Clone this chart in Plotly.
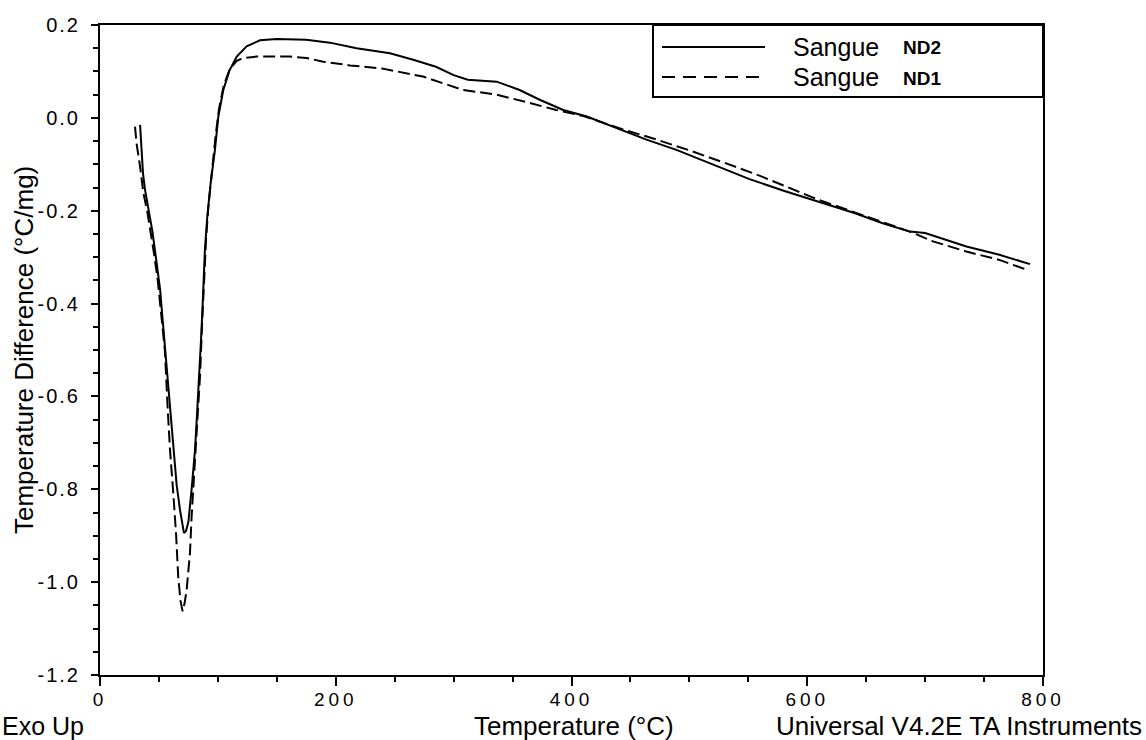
import plotly.graph_objects as go

# ---------------- data ----------------
T_nd2 = [34, 35, 36.5, 38.2, 40.5, 42.4, 44.5, 46.6, 49, 51, 53, 55, 57.6, 60.8, 63, 65,
         67.9, 69.8, 71.2, 73, 75, 77.7, 80.6, 82.5, 84.2, 85.7, 87, 89, 91, 93.9, 97.5,
         100.4, 104.6, 110, 116, 124.4, 135.7, 150, 175, 195, 217.7, 246, 265.7, 285, 300,
         312, 336.5, 356, 373, 393, 413, 435, 463.6, 489, 520, 551, 580, 608, 640, 664,
         687, 700, 712, 735, 763, 789]
v_nd2 = [-0.015, -0.07, -0.12, -0.155, -0.185, -0.21, -0.245, -0.285, -0.33, -0.37, -0.43,
         -0.49, -0.58, -0.68, -0.74, -0.79, -0.845, -0.875, -0.894, -0.89, -0.87, -0.80,
         -0.715, -0.63, -0.557, -0.478, -0.407, -0.284, -0.213, -0.14, -0.069, 0.003, 0.06,
         0.103, 0.132, 0.154, 0.167, 0.170, 0.168, 0.162, 0.150, 0.139, 0.125, 0.11, 0.092,
         0.082, 0.078, 0.06, 0.039, 0.017, 0.003, -0.019, -0.047, -0.069, -0.10, -0.132,
         -0.157, -0.18, -0.205, -0.227, -0.245, -0.248, -0.258, -0.277, -0.295, -0.315]

T_nd1 = [29.7, 31, 34, 36.8, 40, 43, 46, 49, 52, 55, 57.5, 59.4, 62.2, 64.5, 66.4, 68.3,
         70.1, 71.8, 73.5, 75, 76.3, 77.7, 79.2, 81, 83, 85, 86.5, 88, 90, 92, 95, 98, 101,
         105, 110, 116, 121.6, 133, 161, 175, 189.4, 212, 240, 274, 308, 336.5, 364.7, 387,
         410, 440, 470, 500, 530, 560, 608, 640, 664, 687, 706.7, 735, 763, 787]
v_nd1 = [-0.019, -0.055, -0.105, -0.162, -0.2, -0.245, -0.295, -0.35, -0.42, -0.50, -0.63,
         -0.715, -0.81, -0.895, -0.99, -1.04, -1.063, -1.045, -1.017, -0.975, -0.938, -0.86,
         -0.795, -0.73, -0.64, -0.55, -0.45, -0.36, -0.26, -0.19, -0.11, -0.04, 0.02, 0.07,
         0.105, 0.123, 0.129, 0.132, 0.132, 0.129, 0.121, 0.113, 0.106, 0.089, 0.06, 0.05,
         0.032, 0.017, 0.004, -0.022, -0.045, -0.07, -0.097, -0.125, -0.175, -0.203, -0.225,
         -0.245, -0.266, -0.288, -0.306, -0.328]

series_names = ["Sangue ND2", "Sangue ND1"]
x_tick_vals = [0, 200, 400, 600, 800]
x_tick_text = ["0", "200", "400", "600", "800"]
y_tick_vals = [0.2, 0.0, -0.2, -0.4, -0.6, -0.8, -1.0, -1.2]
y_tick_text = ["0.2", "0.0", "-0.2", "-0.4", "-0.6", "-0.8", "-1.0", "-1.2"]

# ---------------- layout helpers ----------------
W, H = 1146, 740
ML, MR, MT, MB = 100, 103, 25, 65
PW, PH = W - ML - MR, H - MT - MB
FONT = "Liberation Sans, Arial, sans-serif"


def px(x):
    return (x - ML) / PW


def py(y):
    return (H - MB - y) / PH


fig = go.Figure()
fig.add_trace(go.Scatter(x=T_nd2, y=v_nd2, mode="lines", name=series_names[0],
                         line=dict(color="black", width=2)))
fig.add_trace(go.Scatter(x=T_nd1, y=v_nd1, mode="lines", name=series_names[1],
                         line=dict(color="black", width=2, dash="12px,5px")))

axis_common = dict(showline=True, linecolor="black", linewidth=2, mirror=True,
                   showgrid=False, zeroline=False, ticks="outside", tickcolor="black",
                   tickwidth=2)

fig.update_xaxes(range=[0, 800], tickmode="array", tickvals=x_tick_vals,
                 ticktext=x_tick_text, ticklen=9, ticklabelstandoff=-3,
                 tickfont=dict(family=FONT, size=19, color="black"),
                 minor=dict(tickmode="linear", tick0=0, dtick=50, ticks="outside",
                            ticklen=5, tickwidth=2, tickcolor="black", showgrid=False),
                 **axis_common)
fig.update_yaxes(range=[-1.2, 0.2], tickmode="array", tickvals=y_tick_vals,
                 ticktext=y_tick_text, ticklen=7, ticklabelstandoff=7,
                 tickfont=dict(family=FONT, size=20, color="black"),
                 minor=dict(tickmode="linear", tick0=0, dtick=0.05, ticks="outside",
                            ticklen=5, tickwidth=2, tickcolor="black", showgrid=False),
                 **axis_common)

shapes = [
    # legend box
    dict(type="rect", xref="paper", yref="paper", x0=px(653), x1=px(1043), y0=py(97),
         y1=py(25), line=dict(color="black", width=2), fillcolor="white"),
    dict(type="line", xref="paper", yref="paper", x0=px(662), x1=px(765), y0=py(47),
         y1=py(47), line=dict(color="black", width=2)),
    dict(type="line", xref="paper", yref="paper", x0=px(662), x1=px(765), y0=py(77),
         y1=py(77), line=dict(color="black", width=2, dash="13px,8px")),
]

annotations = [
    dict(text="Sangue", x=px(791), y=py(47), xanchor="left", yanchor="middle",
         font=dict(family=FONT, size=25, color="black")),
    dict(text="<b>ND2</b>", x=px(901), y=py(48), xanchor="left", yanchor="middle",
         font=dict(family=FONT, size=19, color="black")),
    dict(text="Sangue", x=px(791), y=py(77), xanchor="left", yanchor="middle",
         font=dict(family=FONT, size=25, color="black")),
    dict(text="<b>ND1</b>", x=px(901), y=py(78), xanchor="left", yanchor="middle",
         font=dict(family=FONT, size=19, color="black")),
    dict(text="Temperature Difference (°C/mg)", x=px(24), y=py(350), textangle=-90,
         xanchor="center", yanchor="middle", font=dict(family=FONT, size=26, color="black")),
    dict(text="Exo Up", x=px(0), y=py(726), xanchor="left", yanchor="middle",
         font=dict(family=FONT, size=25, color="black")),
    dict(text="Temperature (°C)", x=px(574), y=py(726), xanchor="center", yanchor="middle",
         font=dict(family=FONT, size=26, color="black")),
    dict(text="Universal V4.2E TA Instruments", x=px(1144), y=py(726), xanchor="right",
         yanchor="middle", font=dict(family=FONT, size=26, color="black")),
]
for a in annotations:
    a.update(xref="paper", yref="paper", showarrow=False)

fig.update_layout(width=W, height=H, margin=dict(l=ML, r=MR, t=MT, b=MB),
                  plot_bgcolor="white", paper_bgcolor="white", showlegend=False,
                  shapes=shapes, annotations=annotations)

post = """
document.body.style.margin = '0';
document.body.style.padding = '0';
document.body.style.overflow = 'hidden';
var gd = document.getElementById('{plot_id}');
gd.querySelectorAll('.xtick text').forEach(function(t){t.style.letterSpacing='4px';});
gd.querySelectorAll('.ytick text').forEach(function(t){t.style.letterSpacing='2px';});
"""
fig.write_html("out.html", post_script=post, config={"displayModeBar": False})
